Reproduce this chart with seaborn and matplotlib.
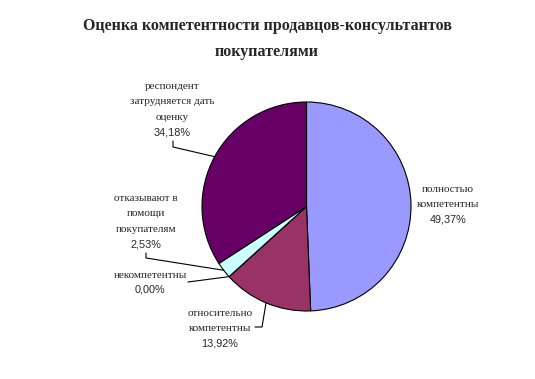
import numpy as np
import matplotlib
matplotlib.use("Agg")
import matplotlib.pyplot as plt
import seaborn as sns

# data
categories = [
    "полностью\nкомпетентны",
    "относительно\nкомпетентны",
    "некомпетентны",
    "отказывают в\nпомощи\nпокупателям",
    "респондент\nзатрудняется дать\nоценку",
]
shares = [49.37, 13.92, 0.00, 2.53, 34.18]
colors = ["#9999FF", "#993366", "#FFFFCC", "#CCFFFF", "#660066"]
title = "Оценка компетентности продавцов-консультантов\nпокупателями"

# layout (pixel coords, origin top-left)
W, H = 535, 379
center = (306.5, 206.5)
radius = 104.5
# text centre x, top of first line y, elbow point of leader (None = no leader)
label_pos = [
    (448, 185, None),
    (220, 309, [(255, 327), (262, 327)]),
    (150, 271, [(188, 282)]),
    (146, 194, [(146, 253), (146, 258)]),
    (172, 82, [(173, 141), (173, 147)]),
]

sns.set_style("white")
serif = "Liberation Serif"
sans = "Liberation Sans"

fig = plt.figure(figsize=(W / 100, H / 100), dpi=100)
ax = fig.add_axes([0, 0, 1, 1])

wedges, _ = ax.pie(
    shares, colors=colors, startangle=90, counterclock=False,
    center=(center[0], H - center[1]), radius=radius,
    wedgeprops=dict(edgecolor="black", linewidth=0.8),
)
# pie draws in y-up space; flip wedges into our y-down axes
for w in wedges:
    w.set_center(center)
    t1, t2 = w.theta1, w.theta2
    w.set_theta1(-t2)
    w.set_theta2(-t1)
ax.set_aspect("auto")
ax.set_xlim(0, W)
ax.set_ylim(H, 0)
ax.axis("off")

ax.text(267, 39, title, ha="center", va="center", fontsize=11.5,
        fontweight="bold", family=serif, linespacing=1.9)

line_h = 15.8
for cat, val, w, (tx, ty, elbow) in zip(categories, shares, wedges, label_pos):
    n = cat.count("\n") + 1
    ax.text(tx, ty, cat, ha="center", va="top", fontsize=8, family=serif,
            linespacing=1.9)
    ax.text(tx, ty + n * line_h - 2, f"{val:.2f}%".replace(".", ","),
            ha="center", va="top", fontsize=7.8, family=sans)
    if elbow:
        mid = np.deg2rad((w.theta1 + w.theta2) / 2)
        edge = (center[0] + radius * np.cos(mid), center[1] + radius * np.sin(mid))
        pts = list(elbow) + [edge]
        ax.plot([p[0] for p in pts], [p[1] for p in pts], color="black", lw=0.8)

fig.savefig("out.png", dpi=100)
